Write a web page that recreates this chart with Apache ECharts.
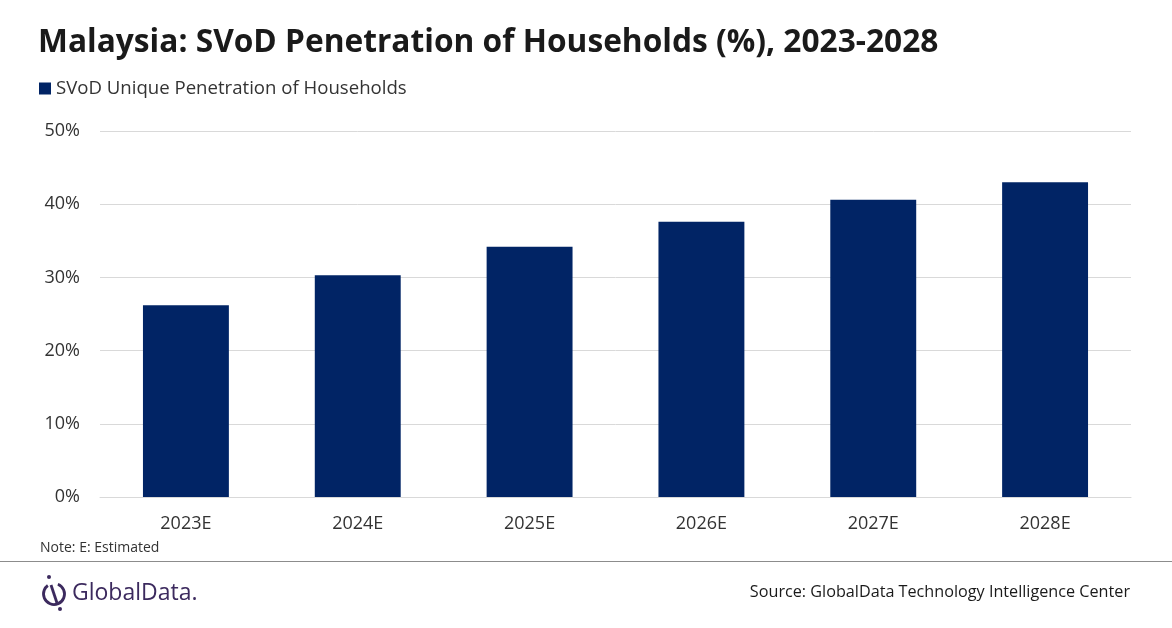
<!DOCTYPE html>
<html><head><meta charset="utf-8">
<script src="https://cdn.jsdelivr.net/npm/echarts@6/dist/echarts.min.js"></script>
<style>html,body{margin:0;padding:0;background:#fff}#c{width:1172px;height:628px}</style>
</head><body><div id="c"></div>
<script>
const categories = ['2023E','2024E','2025E','2026E','2027E','2028E'];
const penetration = [26.2, 30.3, 34.2, 37.6, 40.6, 43.0];
const yTicks = [0, 10, 20, 30, 40, 50];
const seriesName = 'SVoD Unique Penetration of Households';
const titleText = 'Malaysia: SVoD Penetration of Households (%), 2023-2028';
const noteText = 'Note: E: Estimated';
const sourceText = 'Source: GlobalData Technology Intelligence Center';

const chart = echarts.init(document.getElementById('c'), null, {renderer:'canvas'});
const font = '"Open Sans", "Noto Sans", sans-serif';
const purple = '#3c2a5e';
chart.setOption({
  animation:false,
  textStyle:{fontFamily:font},
  title:{text:titleText,left:38,top:27,padding:0,textStyle:{fontFamily:font,fontSize:31.7,fontWeight:'bold',color:'#1a1a1a'}},
  legend:{left:39,top:79,padding:0,itemWidth:12,itemHeight:12,itemGap:4,icon:'rect',
    textStyle:{fontFamily:font,fontSize:18.6,color:'#333'},data:[seriesName]},
  grid:{left:100,right:41,top:131,bottom:131,containLabel:false},
  xAxis:{type:'category',data:categories,
    axisLine:{lineStyle:{color:'#d9d9d9'}},axisTick:{show:false},
    axisLabel:{fontFamily:font,fontSize:18,color:'#333',margin:18}},
  yAxis:{type:'value',min:yTicks[0],max:yTicks[yTicks.length-1],interval:10,
    axisLine:{show:false},axisTick:{show:false},
    splitLine:{lineStyle:{color:'#d9d9d9'}},
    axisLabel:{fontFamily:font,fontSize:18,color:'#333',margin:20,formatter:'{value}%'}},
  series:[{name:seriesName,type:'bar',data:penetration,barWidth:'50%',itemStyle:{color:'#012465'}}],
  graphic:[
    {type:'text',left:40,top:541,style:{text:noteText,font:'14px '+font,fill:'#333'}},
    {type:'line',shape:{x1:0,y1:561.5,x2:1172,y2:561.5},style:{stroke:'#8c8c8c',lineWidth:1}},
    {type:'arc',shape:{cx:54,cy:594,r:10.5,startAngle:-Math.PI*0.38,endAngle:Math.PI*1.3},style:{stroke:purple,lineWidth:2.8,fill:null}},
    {type:'line',shape:{x1:51,y1:585,x2:57,y2:603},style:{stroke:purple,lineWidth:2.8}},
    {type:'circle',shape:{cx:49,cy:577,r:2},style:{fill:purple}},
    {type:'circle',shape:{cx:60,cy:609,r:2},style:{fill:purple}},
    {type:'text',left:72,top:582,style:{text:'GlobalData.',font:'500 23px '+font,fill:purple}},
    {type:'text',right:42,top:584,style:{text:sourceText,font:'16.2px '+font,fill:'#1a1a1a'}}
  ]
});
</script></body></html>
